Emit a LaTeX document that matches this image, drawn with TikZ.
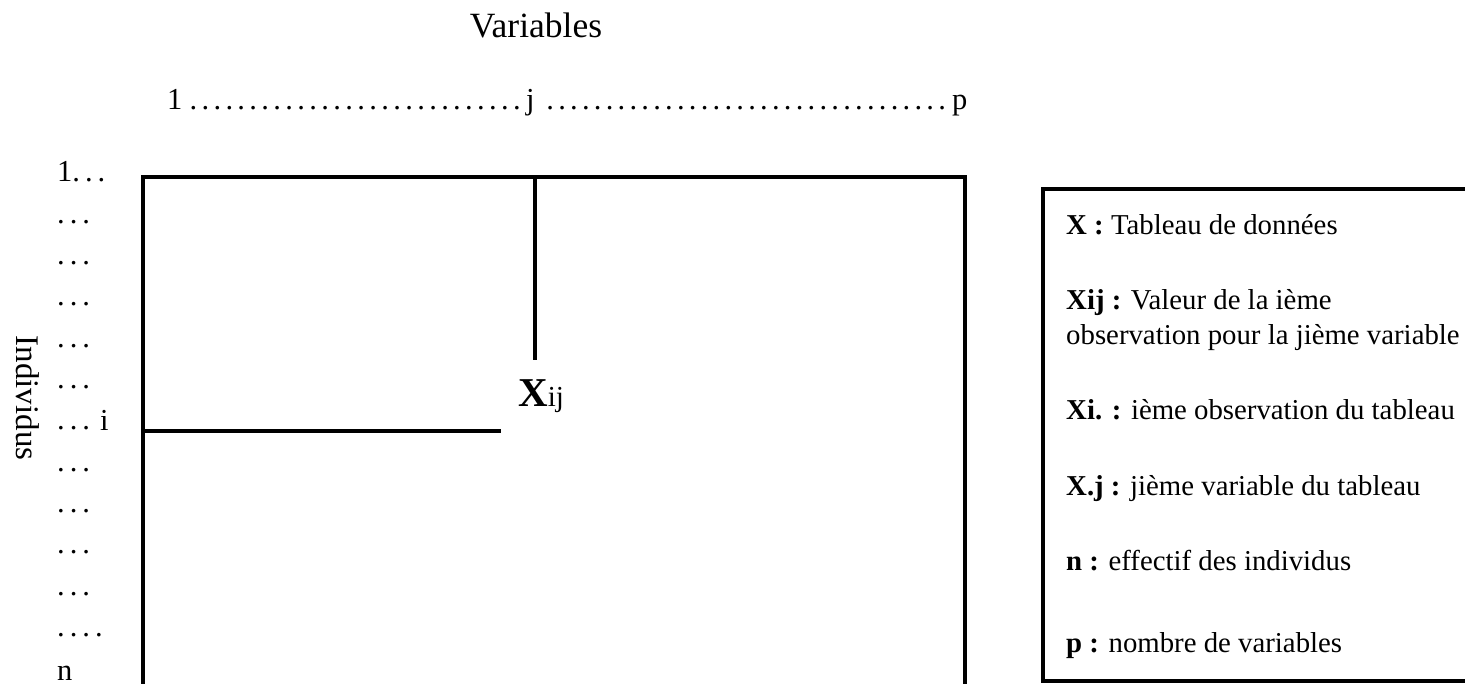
\documentclass[tikz,border=0pt]{standalone}
\usepackage{fontspec}
\setmainfont{Liberation Serif}
\usetikzlibrary{positioning}
\newcommand{\dotrow}[1]{\makebox[#1]{\xleaders\hbox to 11.6pt{\hss.\hss}\hfill}}
\newcommand{\threedots}{.\kern5pt.\kern5pt.}

\begin{document}
\begin{tikzpicture}[x=1pt,y=-1pt,
    txt/.style={anchor=base west,inner sep=0pt,font=\fontsize{30.5}{36}\selectfont},
    frame/.style={line width=3.6pt},
    legend/.style={txt,font=\fontsize{28.8}{34}\selectfont}]
    \useasboundingbox (0,0) rectangle (1465,684);
    \clip (0,0) rectangle (1465,684);
    \node[txt,anchor=base,font=\fontsize{35.5}{42}\selectfont] (vars) at (536,38) {Variables};
    \node[txt] (c1) at (167,110) {1};
    \node[txt] (d1) at (187,110) {\dotrow{336pt}};
    \node[txt] (cj) at (526,110) {j};
    \node[txt] (d2) at (544,110) {\dotrow{404pt}};
    \node[txt] (cp) at (952,110) {p};
    \node[txt] (r0) at (57,182) {1\threedots};
    \foreach \k in {1,...,10}
        \node[txt] (r\k) at (57,{182+41.3*\k}) {\threedots};
    \node[txt] (r11) at (57,636) {\threedots\kern5pt.};
    \node[txt] (ri) at (100,431) {i};
    \node[txt] (rn) at (57,680) {n};
    \node[txt,anchor=center,rotate=-90,font=\fontsize{33}{40}\selectfont] (indiv) at (28,398) {Individus};
    \draw[frame] (143,177) rectangle (965,720);
    \coordinate (jtop) at (535,177);
    \coordinate (jend) at (535,360);
    \coordinate (ileft) at (143,431);
    \coordinate (iend) at (501,431);
    \draw[frame] (jtop) -- (jend);
    \draw[frame] (ileft) -- (iend);
    \node[txt] (xij) at (518,407) {\fontsize{41}{45}\selectfont\bfseries X\fontsize{29}{32}\selectfont\mdseries ij};
    \draw[line width=4.5pt] (1043,189) rectangle (1480,681);
    \node[legend] (lx) at (1066,235) {\textbf{X :} Tableau de données};
    \node[legend] (lxij) at (1066,310) {\textbf{Xij :} Valeur de la ième};
    \node[legend] (lobs) at (1066,345) {observation pour la jième variable};
    \node[legend] (lxi) at (1066,420) {\textbf{Xi. :} ième observation du tableau};
    \node[legend] (lxj) at (1066,495) {\textbf{X.j :} jième variable du tableau};
    \node[legend] (ln) at (1066,570) {\textbf{n :} effectif des individus};
    \node[legend] (lp) at (1066,652) {\textbf{p :} nombre de variables};
\end{tikzpicture}
\end{document}
